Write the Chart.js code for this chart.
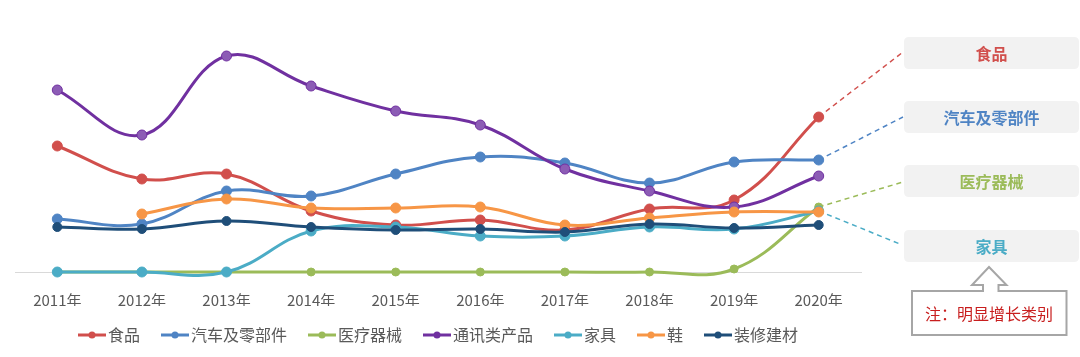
<!DOCTYPE html>
<html><head><meta charset="utf-8">
<script src="https://cdn.jsdelivr.net/npm/chart.js@4.4.1/dist/chart.umd.min.js"></script>
<style>html,body{margin:0;padding:0;background:#fff;}#wrap{width:1080px;height:357px;position:relative;}</style>
</head><body><div id="wrap"><canvas id="c" width="1080" height="357"></canvas></div>
<script>
// ---- data ----
const years = ['2011年','2012年','2013年','2014年','2015年','2016年','2017年','2018年','2019年','2020年'];
const food      = [126, 93, 98, 61, 47, 52, 42, 63, 72, 155];
const autoParts = [53, 48, 81, 76, 98, 115, 109, 89, 110, 112];
const medical   = [0, 0, 0, 0, 0, 0, 0, 0, 3, 65];
const telecom   = [182, 137, 216, 186, 161, 147, 103, 81, 65, 96];
const furniture = [0, 0, 0, 41, 45, 36, 36, 45, 43, 61];
const shoes     = [null, 58, 73, 64, 64, 65, 47, 54, 60, 60];
const decor     = [45, 43, 51, 45, 42, 43, 40, 48, 44, 47];
const seriesNames = ['食品','汽车及零部件','医疗器械','通讯类产品','家具','鞋','装修建材'];
const highlighted = ['食品','汽车及零部件','医疗器械','家具'];
const noteText = '注：明显增长类别';

// ---- styles ----
const colors = {'食品':'#d14f4c','汽车及零部件':'#4f84c4','医疗器械':'#9bbb59','通讯类产品':'#7030a0','家具':'#4bacc6','鞋':'#f79646','装修建材':'#1f4e79'};
const FONT = '"Noto Sans CJK SC", "Noto Sans", sans-serif';
const calloutLayout = {
  '食品':        {boxTop:37,  lineEnd:[903,52]},
  '汽车及零部件': {boxTop:101, lineEnd:[903,117]},
  '医疗器械':     {boxTop:165, lineEnd:[903,182]},
  '家具':        {boxTop:230, lineEnd:[900,244]}
};
const boxX = 904, boxW = 175, boxH = 32;

const values = [food, autoParts, medical, telecom, furniture, shoes, decor];
const datasets = seriesNames.map((name, i) => ({
  label: name,
  data: values[i],
  order: -i,
  borderColor: colors[name],
  backgroundColor: colors[name],
  pointBackgroundColor: name === '通讯类产品' ? '#8c5cb5' : colors[name],
  pointBorderColor: colors[name],
  pointRadius: name === '医疗器械' ? 4 : (name === '装修建材' ? 4.5 : 5),
  pointBorderWidth: 1,
  borderWidth: 3,
  tension: 0.4,
  clip: 12,
  spanGaps: false
}));

function legendMarker(color){
  const cv = document.createElement('canvas');
  cv.width = 34; cv.height = 12;
  const g = cv.getContext('2d');
  g.strokeStyle = color; g.lineWidth = 3;
  g.beginPath(); g.moveTo(6, 6); g.lineTo(34, 6); g.stroke();
  g.fillStyle = color;
  g.beginPath(); g.arc(20, 6, 3.5, 0, Math.PI*2); g.fill();
  return cv;
}
const markers = seriesNames.map(n => legendMarker(colors[n]));

function roundRect(ctx, x, y, w, h, r){
  ctx.beginPath();
  ctx.moveTo(x+r, y); ctx.lineTo(x+w-r, y); ctx.quadraticCurveTo(x+w, y, x+w, y+r);
  ctx.lineTo(x+w, y+h-r); ctx.quadraticCurveTo(x+w, y+h, x+w-r, y+h);
  ctx.lineTo(x+r, y+h); ctx.quadraticCurveTo(x, y+h, x, y+h-r);
  ctx.lineTo(x, y+r); ctx.quadraticCurveTo(x, y, x+r, y);
  ctx.closePath();
}

const callouts = {
  id: 'callouts',
  beforeDatasetsDraw(chart){
    const ctx = chart.ctx;
    highlighted.forEach(name => {
      const idx = seriesNames.indexOf(name);
      const meta = chart.getDatasetMeta(idx);
      const pt = meta.data[meta.data.length - 1];
      const [ex, ey] = calloutLayout[name].lineEnd;
      ctx.save();
      ctx.strokeStyle = colors[name]; ctx.lineWidth = 1.5; ctx.setLineDash([5, 4]);
      ctx.beginPath(); ctx.moveTo(pt.x, pt.y); ctx.lineTo(ex, ey); ctx.stroke();
      ctx.restore();
    });
  },
  afterDraw(chart){
    const ctx = chart.ctx;
    highlighted.forEach(name => {
      const top = calloutLayout[name].boxTop;
      ctx.save();
      ctx.fillStyle = '#f2f2f2';
      roundRect(ctx, boxX, top, boxW, boxH, 5); ctx.fill();
      ctx.fillStyle = colors[name];
      ctx.font = 'bold 16px ' + FONT;
      ctx.textAlign = 'center'; ctx.textBaseline = 'middle';
      ctx.fillText(name, boxX + boxW/2, top + boxH/2 + 1);
      ctx.restore();
    });
    // note box with up arrow
    ctx.save();
    ctx.beginPath();
    ctx.moveTo(912, 291); ctx.lineTo(983, 291); ctx.lineTo(983, 285); ctx.lineTo(972, 285);
    ctx.lineTo(989, 267); ctx.lineTo(1006.5, 285); ctx.lineTo(998.5, 285); ctx.lineTo(998.5, 291);
    ctx.lineTo(1066.5, 291); ctx.lineTo(1066.5, 335); ctx.lineTo(912, 335); ctx.closePath();
    ctx.fillStyle = '#ffffff'; ctx.fill();
    ctx.strokeStyle = '#a6a6a6'; ctx.lineWidth = 2; ctx.stroke();
    ctx.fillStyle = '#c81e1e';
    ctx.font = '16px ' + FONT;
    ctx.textAlign = 'center'; ctx.textBaseline = 'middle';
    ctx.fillText(noteText, 989, 314);
    ctx.restore();
  }
};

new Chart(document.getElementById('c'), {
  type: 'line',
  data: { labels: years, datasets },
  options: {
    responsive: false,
    animation: false,
    devicePixelRatio: 1,
    layout: { padding: { left: 15, right: 219, top: 20, bottom: 4 } },
    elements: { line: { capBezierPoints: false } },
    scales: {
      x: {
        offset: true,
        grid: { display: false, drawTicks: false, offset: true },
        border: { display: true, color: '#d9d9d9', width: 1 },
        ticks: { color: '#595959', font: { family: FONT, size: 15 }, padding: 19, maxRotation: 0 },
        afterFit(scale){ scale.height = 34; }
      },
      y: { display: false, min: 0, max: 252 }
    },
    plugins: {
      tooltip: { enabled: false },
      legend: {
        position: 'bottom',
        labels: {
          usePointStyle: true,
          pointStyleWidth: 22,
          padding: 21,
          color: '#595959',
          font: { family: FONT, size: 16 },
          generateLabels(chart){
            const items = Chart.defaults.plugins.legend.labels.generateLabels(chart);
            items.sort((a, b) => a.datasetIndex - b.datasetIndex);
            items.forEach(it => { it.pointStyle = markers[it.datasetIndex]; });
            return items;
          }
        }
      }
    }
  },
  plugins: [callouts]
});
</script>
</body></html>
